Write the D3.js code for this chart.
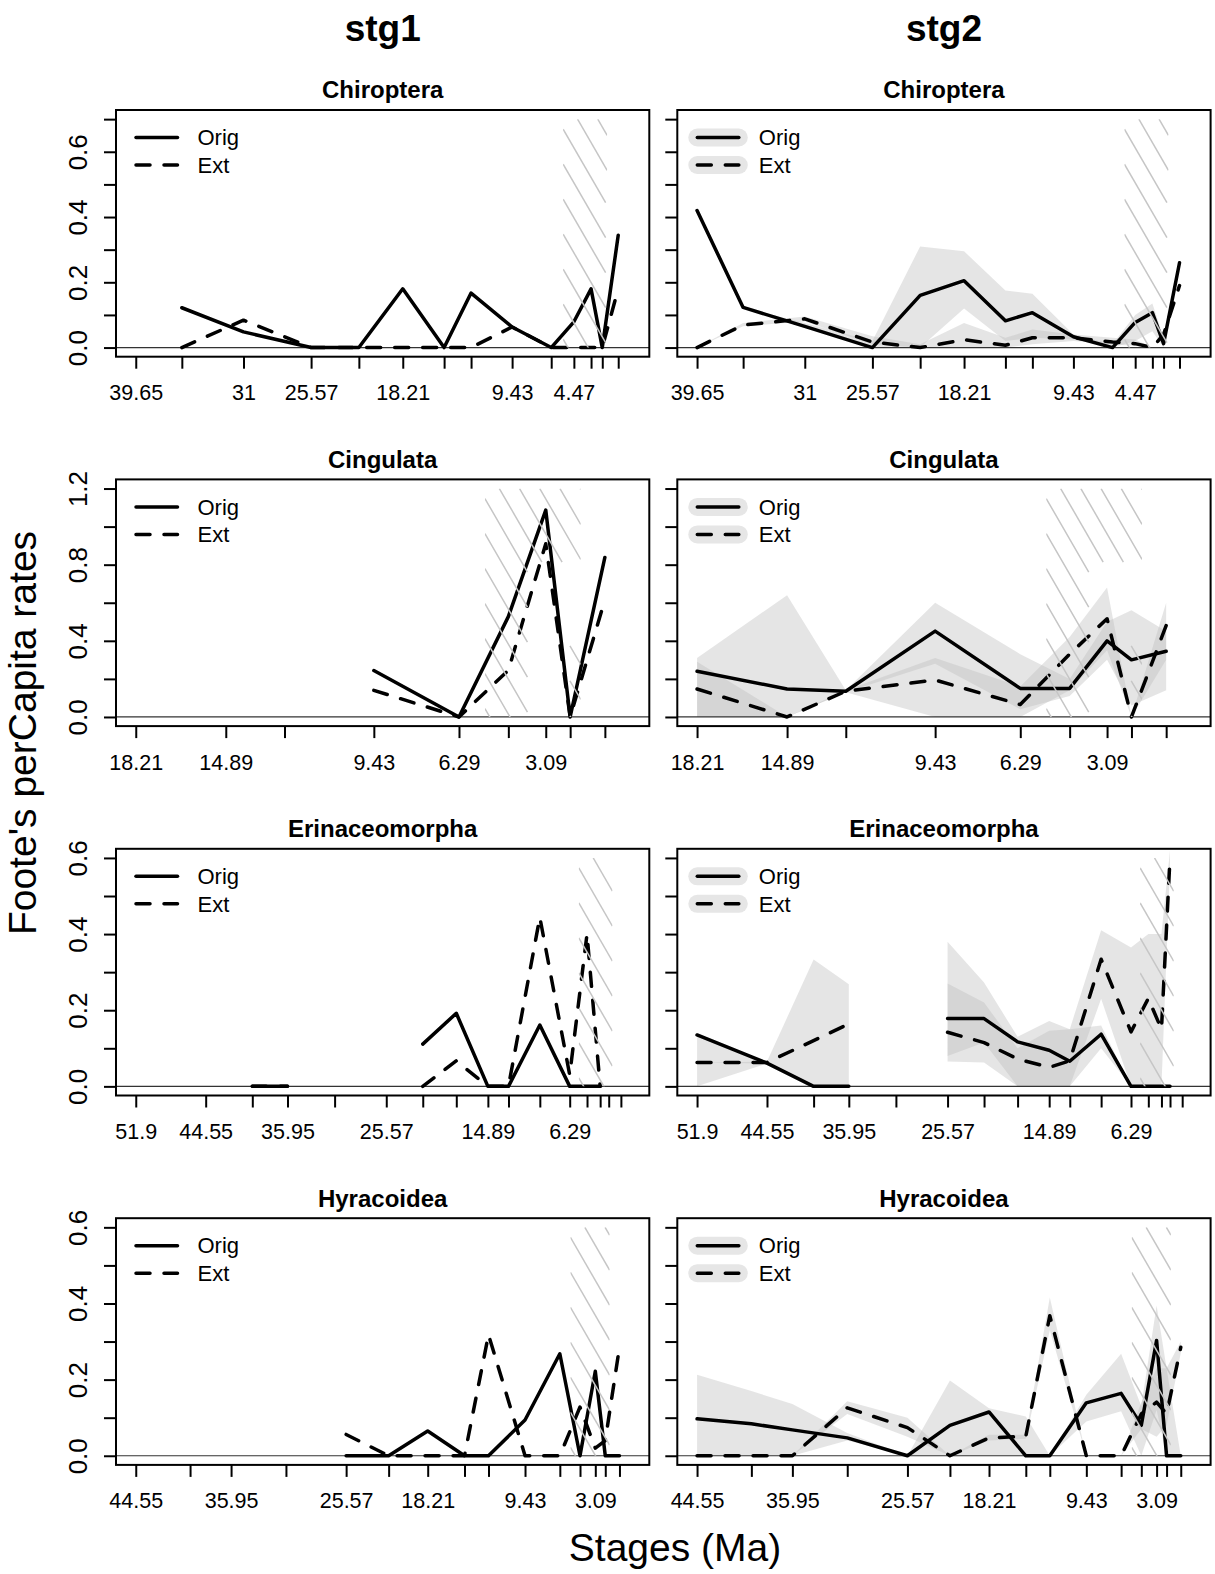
<!DOCTYPE html>
<html>
<head>
<meta charset="utf-8">
<script src="https://cdn.jsdelivr.net/npm/d3@7"></script>
<style>
body { margin: 0; background: #fff; }
text { font-family: "Liberation Sans", Arial, sans-serif; }
</style>
</head>
<body>
<div id="chart"></div>
<script>
// stage midpoints (Ma), oldest first
var stageMid = [51.9, 44.55, 39.65, 35.95, 31, 25.57, 21.735, 18.21, 14.89, 12.725, 9.43, 6.29, 4.47, 3.09, 2.19, 0.91];

var clades = ["Chiroptera", "Cingulata", "Erinaceomorpha", "Hyracoidea"];
var firstStage = [2, 7, 0, 1];   // index in stageMid of each clade's first stage
var yMax = [0.7, 1.2, 0.6, 0.6];
var yStep = [0.1, 0.2, 0.1, 0.1];
var yLabels = [[0, 0.2, 0.4, 0.6], [0, 0.4, 0.8, 1.2], [0, 0.2, 0.4, 0.6], [0, 0.2, 0.4, 0.6]];
var xLabels = [
  [39.65, 31, 25.57, 18.21, 9.43, 4.47],
  [18.21, 14.89, 9.43, 6.29, 3.09],
  [51.9, 44.55, 35.95, 25.57, 14.89, 6.29],
  [44.55, 35.95, 25.57, 18.21, 9.43, 3.09]
];
var hatchFrom = 5.333, hatchTo = 1.8;

// Chiroptera (39.65 .. 0.91)
var chiroOrig1 = [null, 0.122, 0.048, 0, 0, 0.18, 0, 0.167, 0.063, 0, 0.079, 0.18, 0, 0.344];
var chiroExt1  = [null, 0, 0.084, 0, 0, 0, 0, 0, 0.063, 0, 0, 0, 0, 0.18];
var chiroOrig2 = [0.42, 0.123, 0.065, 0, 0.16, 0.205, 0.082, 0.107, 0.033, 0, 0.077, 0.107, 0.012, 0.26];
var chiroExt2  = [0, 0.069, 0.088, 0.017, 0, 0.024, 0.007, 0.03, 0.03, 0.017, 0.012, 0, 0.04, 0.19];
var chiroOrigLo = [0.42, 0.123, 0.06, 0, 0, 0.12, 0.02, 0.03, 0.025, 0, 0.02, 0.05, 0, 0.26];
var chiroOrigHi = [0.42, 0.123, 0.075, 0.02, 0.31, 0.295, 0.175, 0.165, 0.04, 0.01, 0.1, 0.135, 0.03, 0.26];
var chiroExtLo  = [0, 0.065, 0.08, 0.01, 0, 0, 0, 0.01, 0.02, 0.01, 0.005, 0, 0.04, 0.19];
var chiroExtHi  = [0, 0.075, 0.095, 0.035, 0.01, 0.075, 0.03, 0.055, 0.04, 0.03, 0.025, 0, 0.04, 0.19];

// Cingulata (18.21 .. 0.91)
var cingOrig1 = [null, null, null, 0.244, 0, 0.527, 1.087, 0, 0.838];
var cingExt1  = [null, null, null, 0.14, 0, 0.245, 0.91, 0, 0.615];
var cingOrig2 = [0.24, 0.147, 0.135, 0.451, 0.15, 0.15, 0.40, 0.30, 0.345];
var cingExt2  = [0.147, 0, 0.135, 0.194, 0.065, 0.33, 0.516, 0, 0.48];
var cingOrigLo = [0, 0, 0.13, 0.28, 0.04, 0.11, 0.30, 0.06, 0.14];
var cingOrigHi = [0.31, 0.64, 0.14, 0.60, 0.33, 0.20, 0.50, 0.56, 0.45];
var cingExtLo  = [0, 0, 0.13, 0, 0, 0.14, 0.35, 0, 0.30];
var cingExtHi  = [0.29, 0, 0.14, 0.31, 0.16, 0.42, 0.68, 0, 0.60];

// Erinaceomorpha (51.9 .. 0.91)
var erinOrig1 = [null, null, 0, 0, null, null, 0.111, 0.192, 0, 0, 0.161, 0, 0, 0, null, null];
var erinExt1  = [null, null, 0, 0, null, null, 0, 0.067, 0, 0, 0.444, 0.03, 0.40, 0, null, null];
var erinOrig2 = [0.135, 0.061, 0, 0, null, 0.178, 0.178, 0.117, 0.095, 0.066, 0.137, 0, 0, 0, 0, null];
var erinExt2  = [0.063, 0.063, 0.12, 0.164, null, 0.142, 0.115, 0.072, 0.05, 0.067, 0.334, 0.143, 0.231, 0.15, 0.6, null];
var erinOrigLo = [0, 0.06, 0, 0, null, 0.08, 0.115, 0, 0, 0, 0.1, 0, 0, 0, 0, null];
var erinOrigHi = [0.135, 0.065, 0, 0, null, 0.38, 0.273, 0.13, 0.172, 0.15, 0.16, 0, 0, 0, 0, null];
var erinExtLo  = [0.063, 0.06, 0, 0, null, 0.065, 0.063, 0, 0, 0, 0.23, 0, 0, 0, 0.58, null];
var erinExtHi  = [0.063, 0.065, 0.333, 0.268, null, 0.27, 0.22, 0.1, 0.146, 0.15, 0.41, 0.365, 0.40, 0.40, 0.62, null];

// Hyracoidea (44.55 .. 0.91)
var hyraOrig1 = [null, null, null, null, 0, 0, 0.065, 0, 0, 0.094, 0.268, 0, 0.222, 0, 0];
var hyraExt1  = [null, null, null, null, 0.056, 0, 0, 0, 0.318, 0, 0, 0.128, 0.02, 0.04, 0.285];
var hyraOrig2 = [0.097, 0.084, 0.068, 0.047, 0, 0.08, 0.115, 0, 0, 0.139, 0.164, 0.08, 0.303, 0, 0];
var hyraExt2  = [0, 0, 0, 0.126, 0.074, 0, 0.047, 0.051, 0.368, 0, 0, 0.11, 0.141, 0.11, 0.285];
var hyraOrigLo = [0, 0, 0, 0.04, 0, 0, 0, 0, 0, 0.09, 0.117, 0, 0.12, 0, 0];
var hyraOrigHi = [0.213, 0.17, 0.136, 0.06, 0, 0.198, 0.125, 0.103, 0, 0.16, 0.268, 0.13, 0.395, 0.23, 0];
var hyraExtLo  = [0, 0, 0, 0.11, 0.05, 0, 0.04, 0.045, 0.33, 0, 0, 0.07, 0.05, 0.08, 0.27];
var hyraExtHi  = [0, 0, 0, 0.143, 0.1, 0, 0.055, 0.055, 0.416, 0, 0, 0.14, 0.23, 0.23, 0.30];

var origS1 = [chiroOrig1, cingOrig1, erinOrig1, hyraOrig1];
var extS1  = [chiroExt1, cingExt1, erinExt1, hyraExt1];
var origS2 = [chiroOrig2, cingOrig2, erinOrig2, hyraOrig2];
var extS2  = [chiroExt2, cingExt2, erinExt2, hyraExt2];
var origLo = [chiroOrigLo, cingOrigLo, erinOrigLo, hyraOrigLo];
var origHi = [chiroOrigHi, cingOrigHi, erinOrigHi, hyraOrigHi];
var extLo  = [chiroExtLo, cingExtLo, erinExtLo, hyraExtLo];
var extHi  = [chiroExtHi, cingExtHi, erinExtHi, hyraExtHi];

var width = 1215, height = 1574;
var boxLeft = [116, 677.3], boxW = 533.3, boxH = 246.7, boxTop0 = 110, rowStep = 369.4;
var bandCol = "#bebebe";
var lineW = 3.5, dashPat = "14,14";

var svg = d3.select("#chart").append("svg")
    .attr("width", width)
    .attr("height", height);

// column and axis titles
svg.append("text").attr("x", 382.7).attr("y", 28).attr("dy", "0.35em")
  .attr("text-anchor", "middle").attr("font-size", 37).attr("font-weight", "bold").text("stg1");
svg.append("text").attr("x", 944).attr("y", 28).attr("dy", "0.35em")
  .attr("text-anchor", "middle").attr("font-size", 37).attr("font-weight", "bold").text("stg2");
svg.append("text").attr("x", 675).attr("y", 1547).attr("dy", "0.35em")
  .attr("text-anchor", "middle").attr("font-size", 39).text("Stages (Ma)");
svg.append("text").attr("transform", "translate(22,733) rotate(-90)").attr("dy", "0.35em")
  .attr("text-anchor", "middle").attr("font-size", 39).text("Foote's perCapita rates");

function series(vals, start) {
  return vals.map(function(v, i) { return {x: stageMid[start + i], v: v}; });
}
function band(lo, hi, start) {
  return lo.map(function(v, i) { return {x: stageMid[start + i], lo: v, hi: hi[i]}; });
}

// diagonal shading of the unreliable interval, clipped to its own rectangle
function hatch(g, id, L, R, T, B) {
  var s = Math.sqrt(3), spacing = 35, W = R - L;
  g.append("clipPath").attr("id", id)
    .append("rect").attr("x", L).attr("y", T).attr("width", W).attr("height", B - T);
  var hg = g.append("g").attr("clip-path", "url(#" + id + ")");
  var cs = [];
  for (var c = T + 10 - spacing * Math.ceil((s * W + 10) / spacing); c < B; c += spacing) cs.push(c);
  hg.selectAll("line").data(cs).enter().append("line")
    .attr("x1", L).attr("y1", function(c) { return c; })
    .attr("x2", R).attr("y2", function(c) { return c + s * W; })
    .attr("stroke", "#c6c6c6").attr("stroke-width", 1.5)
    .attr("stroke-dasharray", "85,85")
    .attr("stroke-dashoffset", function(c) { return c < T ? -2 * (T - c) / s : 0; });
}

function drawPanel(row, col) {
  var left = boxLeft[col], top = boxTop0 + row * rowStep;
  var start = firstStage[row];
  var x0 = stageMid[start];
  var x = d3.scaleLinear().domain([x0 * 1.04, -0.04 * x0]).range([left, left + boxW]);
  var ym = yMax[row];
  var y = d3.scaleLinear().domain([-0.04 * ym, 1.04 * ym]).range([top + boxH, top]);

  var g = svg.append("g");
  var clipId = "clip" + row + "_" + col;
  g.append("clipPath").attr("id", clipId)
    .append("rect").attr("x", left).attr("y", top).attr("width", boxW).attr("height", boxH);
  var inner = g.append("g").attr("clip-path", "url(#" + clipId + ")");

  // confidence bands (stg2 only)
  if (col == 1) {
    var area = d3.area()
      .defined(function(d) { return d.lo != null; })
      .x(function(d) { return x(d.x); })
      .y0(function(d) { return y(d.lo); })
      .y1(function(d) { return y(d.hi); });
    inner.append("path").datum(band(origLo[row], origHi[row], start))
      .attr("d", area).attr("fill", bandCol).attr("fill-opacity", 0.4);
    inner.append("path").datum(band(extLo[row], extHi[row], start))
      .attr("d", area).attr("fill", bandCol).attr("fill-opacity", 0.4);
  }

  hatch(g, "hatch" + row + "_" + col, x(hatchFrom), x(hatchTo), y(ym), y(0));

  inner.append("line")
    .attr("x1", left).attr("x2", left + boxW).attr("y1", y(0)).attr("y2", y(0))
    .attr("stroke", "#333").attr("stroke-width", 1.2);

  var line = d3.line()
    .defined(function(d) { return d.v != null; })
    .x(function(d) { return x(d.x); })
    .y(function(d) { return y(d.v); });

  var o = col == 0 ? origS1[row] : origS2[row];
  var e = col == 0 ? extS1[row] : extS2[row];
  inner.append("path").datum(series(o, start)).attr("d", line)
    .attr("fill", "none").attr("stroke", "#000").attr("stroke-width", lineW)
    .attr("stroke-linejoin", "round").attr("stroke-linecap", "round");
  inner.append("path").datum(series(e, start)).attr("d", line)
    .attr("fill", "none").attr("stroke", "#000").attr("stroke-width", lineW)
    .attr("stroke-dasharray", dashPat)
    .attr("stroke-linejoin", "round").attr("stroke-linecap", "round");

  // box
  g.append("rect").attr("x", left).attr("y", top).attr("width", boxW).attr("height", boxH)
    .attr("fill", "none").attr("stroke", "#000").attr("stroke-width", 2);

  // x axis
  var labs = xLabels[row];
  var xa = g.append("g").attr("transform", "translate(0," + (top + boxH) + ")")
    .call(d3.axisBottom(x).tickValues(stageMid.slice(start)).tickSize(12)
      .tickFormat(function(d) { return labs.indexOf(d) >= 0 ? String(d) : ""; }));
  xa.select(".domain").remove();
  xa.selectAll("line").attr("stroke-width", 2).attr("stroke", "#000");
  xa.selectAll("text").attr("y", 36).attr("dy", "0.35em")
    .attr("font-size", 21.5).attr("fill", "#000")
    .style("font-family", "'Liberation Sans', Arial, sans-serif");

  // y axis
  var ylabs = yLabels[row];
  var ya = g.append("g").attr("transform", "translate(" + left + ",0)")
    .call(d3.axisLeft(y).tickValues(d3.range(0, ym + 1e-9, yStep[row])).tickSize(12)
      .tickFormat(function(d) {
        if (col == 1) return "";
        return ylabs.some(function(v) { return Math.abs(v - d) < 1e-9; }) ? d3.format(".1f")(d) : "";
      }));
  ya.select(".domain").remove();
  ya.selectAll("line").attr("stroke-width", 2).attr("stroke", "#000");
  ya.selectAll("text").attr("x", 0).attr("dy", "0.35em")
    .attr("transform", "translate(-37.7,0) rotate(-90)")
    .attr("text-anchor", "middle").attr("font-size", 26).attr("fill", "#000")
    .style("font-family", "'Liberation Sans', Arial, sans-serif");

  // title
  g.append("text").attr("x", left + boxW / 2).attr("y", top - 20).attr("dy", "0.35em")
    .attr("text-anchor", "middle").attr("font-size", 24).attr("font-weight", "bold")
    .text(clades[row]);

  // legend
  var items = ["Orig", "Ext"];
  var leg = g.selectAll(".legend" + row + col).data(items).enter().append("g")
    .attr("transform", function(d, i) { return "translate(" + left + "," + (top + 27.5 + i * 27.5) + ")"; });
  if (col == 1) {
    leg.append("line").attr("x1", 20).attr("x2", 61.5)
      .attr("stroke", "#e6e6e6").attr("stroke-width", 18).attr("stroke-linecap", "round");
  }
  leg.append("line").attr("x1", 20).attr("x2", 61.5)
    .attr("stroke", "#000").attr("stroke-width", lineW)
    .attr("stroke-dasharray", function(d) { return d == "Ext" ? dashPat : null; })
    .attr("stroke-linecap", "round");
  leg.append("text").attr("x", 81.5).attr("dy", "0.35em").attr("font-size", 22)
    .text(function(d) { return d; });
}

for (var r = 0; r < clades.length; r++) {
  drawPanel(r, 0);
  drawPanel(r, 1);
}
</script>
</body>
</html>
